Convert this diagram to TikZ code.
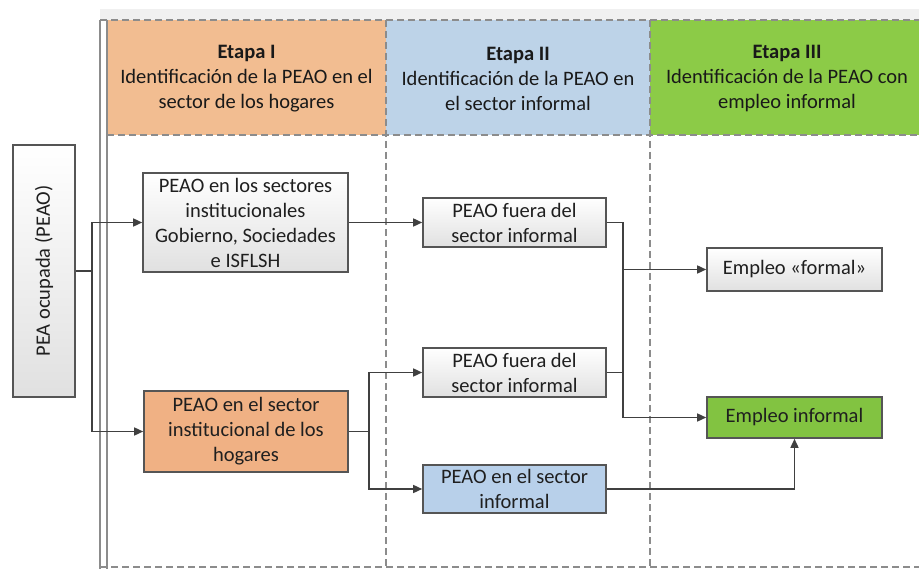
\documentclass[tikz,border=0pt]{standalone}
\usepackage{fontspec}
\setmainfont{Carlito}
\usetikzlibrary{arrows.meta}
\definecolor{lanegray}{HTML}{8C8C8C}
\definecolor{boxborder}{HTML}{555555}
\definecolor{linecol}{HTML}{404040}
\definecolor{horange}{HTML}{F2BD91}
\definecolor{hblue}{HTML}{BDD3E8}
\definecolor{hgreen}{HTML}{8CCB47}
\definecolor{borange}{HTML}{F0B184}
\definecolor{bblue}{HTML}{B8D0EA}
\definecolor{bgreen}{HTML}{82C341}
\tikzset{
  lane/.style={draw=lanegray, line width=1.3pt, dash pattern=on 7pt off 4pt},
  hdr/.style={align=center, font=\fontsize{20.5}{25}\selectfont, text=black!90},
  box/.style={draw=boxborder, line width=1.6pt, align=center, inner sep=1pt,
    font=\fontsize{20.5}{25}\selectfont, text=black!88},
  graybox/.style={box, top color=white, bottom color=black!12},
  orangebox/.style={box, fill=borange},
  bluebox/.style={box, fill=bblue},
  greenbox/.style={box, fill=bgreen},
  conn/.style={draw=linecol, line width=1.5pt},
  arr/.style={conn, -{Triangle[length=9pt,width=8pt]}},
}
\begin{document}
\begin{tikzpicture}[x=1pt,y=-1pt]
\useasboundingbox (0,0) rectangle (919,569);
% faint top band
\fill[black!6] (100,9) rectangle (919,20);
% header fills
\fill[horange] (107,20) rectangle (386,135);
\fill[hblue] (386,20) rectangle (650,135);
\fill[hgreen] (650,20) rectangle (925,135);
% lane lines
\draw[lane] (100,20) -- (925,20);
\draw[lane] (107,135) -- (925,135);
\draw[lane] (100,567) -- (925,567);
\draw[draw=lanegray, line width=1.2pt] (100,20) -- (100,569);
\draw[draw=lanegray, line width=1.2pt] (107,20) -- (107,569);
\draw[lane] (386,20) -- (386,569);
\draw[lane] (650,20) -- (650,569);
% header texts
\node[hdr] (h1) at (246.5,78.5) {\textbf{Etapa I}\\Identificación de la PEAO en el\\sector de los hogares};
\node[hdr] (h2) at (518,78.5) {\textbf{Etapa II}\\Identificación de la PEAO en\\el sector informal};
\node[hdr] (h3) at (787,78.5) {\textbf{Etapa III}\\Identificación de la PEAO con\\empleo informal};
% boxes
\node[graybox, minimum width=62, minimum height=252] (pea) at (44,271) {\rotatebox{90}{PEA ocupada (PEAO)}};
\node[graybox, minimum width=205, minimum height=99] (b1) at (245.5,222.5) {PEAO en los sectores\\institucionales\\Gobierno, Sociedades\\e ISFLSH};
\node[orangebox, minimum width=204, minimum height=81] (b2) at (246,431.5) {PEAO en el sector\\institucional de los\\hogares};
\node[graybox, minimum width=183, minimum height=49] (b3) at (514.5,222.5) {PEAO fuera del\\sector informal};
\node[graybox, minimum width=183, minimum height=49] (b4) at (514.5,372.5) {PEAO fuera del\\sector informal};
\node[bluebox, minimum width=183, minimum height=48] (b5) at (514.5,489) {PEAO en el sector\\informal};
\node[graybox, minimum width=175, minimum height=43] (b6) at (794.5,269.5) {Empleo «formal»};
\node[greenbox, minimum width=175, minimum height=41] (b7) at (794.5,417.5) {Empleo informal};
% connectors
\coordinate (j1) at (92,271);
\coordinate (j2) at (369,431.5);
\coordinate (j3) at (623,222.5);
\coordinate (j4) at (623,372.5);
\draw[conn] (pea.east) -- (j1);
\draw[arr] (j1) |- (b1.west);
\draw[arr] (j1) |- (b2.west);
\draw[arr] (b1.east) -- (b3.west);
\draw[conn] (b2.east) -- (j2);
\draw[arr] (j2) |- (b4.west);
\draw[arr] (j2) |- (b5.west);
\draw[arr] (b3.east) -- (j3) |- (b6.west);
\draw[conn] (j3) -- (j4);
\draw[arr] (b4.east) -- (j4) |- (b7.west);
\draw[arr] (b5.east) -| (b7.south);
\end{tikzpicture}
\end{document}
